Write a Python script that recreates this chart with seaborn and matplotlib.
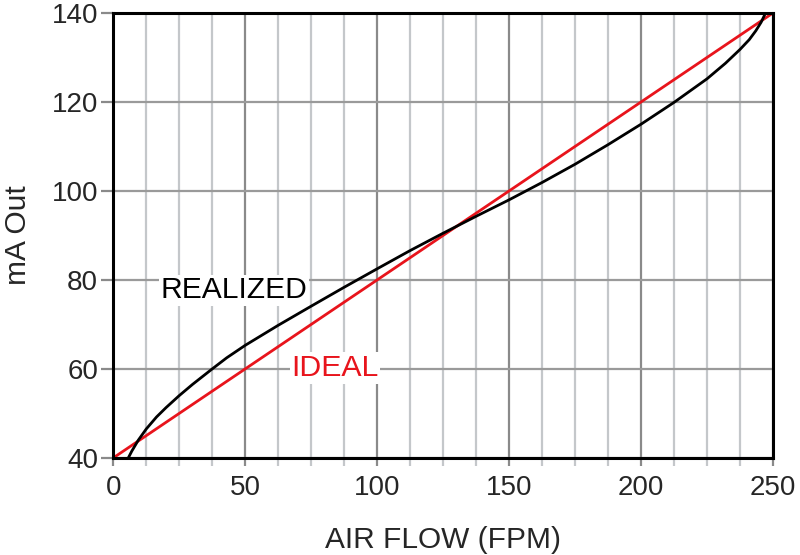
import matplotlib
matplotlib.use("Agg")
import matplotlib.pyplot as plt
import seaborn as sns
import pandas as pd
from matplotlib.ticker import MultipleLocator

# Data
realized_x = [5.7, 7.0, 9.5, 12.5, 16.4, 20.0, 25.0, 30.0, 37.5, 43.0, 50.0, 62.5, 75.0,
              87.5, 100.0, 112.5, 125.0, 137.5, 150.0, 162.5, 175.0, 187.5, 200.0,
              212.5, 225.0, 232.0, 237.5, 241.0, 243.5, 245.5, 247.2]
realized_y = [40.0, 41.5, 44.0, 46.5, 49.2, 51.3, 54.0, 56.5, 60.0, 62.5, 65.3, 69.8, 74.1,
              78.35, 82.5, 86.6, 90.5, 94.3, 98.0, 101.9, 106.0, 110.4, 115.0,
              119.9, 125.2, 128.7, 131.8, 134.0, 136.0, 137.9, 140.0]
ideal_x = [0, 250]
ideal_y = [40, 140]

x_ticks = [0, 50, 100, 150, 200, 250]
y_ticks = [40, 60, 80, 100, 120, 140]

sns.set_style("white")
plt.rcParams['font.family'] = ['Liberation Sans', 'DejaVu Sans']

fig = plt.figure(figsize=(8, 5.55), dpi=100)
ax = fig.add_axes([0.1416, 0.175, 0.8246, 0.8016])

df_r = pd.DataFrame({"x": realized_x, "y": realized_y})
df_i = pd.DataFrame({"x": ideal_x, "y": ideal_y})

sns.lineplot(data=df_i, x="x", y="y", ax=ax, color="#e8141c", linewidth=2.0, zorder=4)
sns.lineplot(data=df_r, x="x", y="y", ax=ax, color="black", linewidth=2.0, zorder=5, sort=False)

ax.set_xlim(0, 250)
ax.set_ylim(40, 140)
ax.set_xticks(x_ticks)
ax.set_yticks(y_ticks)
ax.xaxis.set_minor_locator(MultipleLocator(12.5))

ax.grid(which="major", axis="x", color="#8a8a8a", linewidth=1.6, zorder=1)
ax.grid(which="minor", axis="x", color="#c4c7ca", linewidth=1.6, zorder=1)
ax.grid(which="major", axis="y", color="#9a9a9a", linewidth=1.6, zorder=1)
ax.set_axisbelow(True)

for s in ax.spines.values():
    s.set_color("black")
    s.set_linewidth(2.2)
    s.set_zorder(6)

ax.tick_params(axis="y", which="major", direction="out", length=9, width=1.6,
               color="#8a8a8a", labelsize=20, pad=2, left=True)
ax.tick_params(axis="x", which="major", direction="out", length=6, width=1.6,
               color="#8a8a8a", labelsize=20, pad=6, bottom=True)
ax.tick_params(axis="x", which="minor", direction="out", length=6, width=1.6,
               color="#c4c7ca", bottom=True)

ax.set_xlabel("AIR FLOW (FPM)", fontsize=21.5, labelpad=18)
ax.set_ylabel("mA Out", fontsize=21.5, labelpad=14)

ax.text(18, 77.7, "REALIZED", fontsize=21.6, color="black", va="center", ha="left",
        zorder=7, bbox=dict(facecolor="white", edgecolor="none", pad=1))
ax.text(67.5, 60.2, "IDEAL", fontsize=21.8, color="#e8141c", va="center", ha="left",
        zorder=7, bbox=dict(facecolor="white", edgecolor="none", pad=1))

fig.savefig("out.png", dpi=100)
